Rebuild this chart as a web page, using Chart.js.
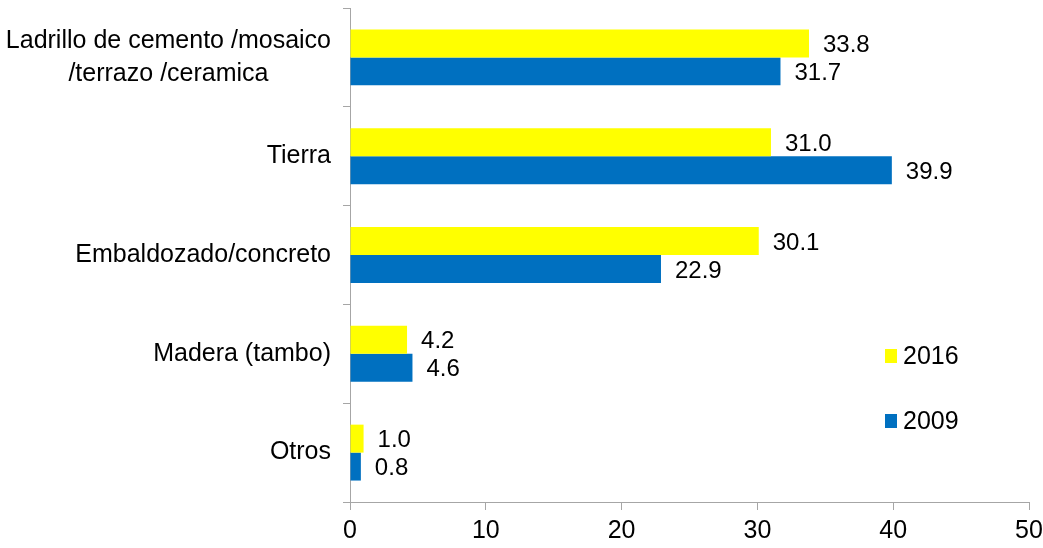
<!DOCTYPE html>
<html>
<head>
<meta charset="utf-8">
<script src="https://cdn.jsdelivr.net/npm/chart.js@4.4.1/dist/chart.umd.min.js"></script>
<style>
  html, body { margin: 0; padding: 0; background: #fff; }
  #wrap { width: 1043px; height: 548px; }
</style>
</head>
<body>
<div id="wrap"><canvas id="floorChart" width="1043" height="548"></canvas></div>
<script>
const categories = [
  ["Ladrillo de cemento /mosaico", "/terrazo /ceramica" + "\u00A0".repeat(9)],
  "Tierra",
  "Embaldozado/concreto",
  "Madera (tambo)",
  "Otros"
];
const values2016 = [33.8, 31.0, 30.1, 4.2, 1.0];
const values2009 = [31.7, 39.9, 22.9, 4.6, 0.8];
const seriesLabels = ["2016", "2009"];
const xTicks = [0, 10, 20, 30, 40, 50];

const FONT = "'Liberation Sans', Arial, sans-serif";
const axisGray = "#a6a6a6";

// etiquetas de valor al final de cada barra
const valueLabels = {
  id: "valueLabels",
  afterDatasetsDraw(chart) {
    const ctx = chart.ctx;
    ctx.save();
    ctx.font = "24px " + FONT;
    ctx.fillStyle = "#000";
    ctx.textAlign = "left";
    ctx.textBaseline = "middle";
    chart.data.datasets.forEach((ds, i) => {
      chart.getDatasetMeta(i).data.forEach((bar, j) => {
        ctx.fillText(ds.data[j].toFixed(1), bar.x + 14, bar.y + 2);
      });
    });
    ctx.restore();
  }
};

// leyenda dentro del área, a la derecha
const sideLegend = {
  id: "sideLegend",
  afterDraw(chart) {
    const ctx = chart.ctx;
    ctx.save();
    ctx.font = "25px " + FONT;
    ctx.textAlign = "left";
    ctx.textBaseline = "middle";
    chart.data.datasets.forEach((ds, i) => {
      const cy = 356 + i * 65;
      ctx.fillStyle = ds.backgroundColor;
      ctx.fillRect(885, cy - 7, 12, 14);
      ctx.fillStyle = "#000";
      ctx.fillText(ds.label, 903, cy + 1);
    });
    ctx.restore();
  }
};

new Chart(document.getElementById("floorChart"), {
  type: "bar",
  data: {
    labels: categories,
    datasets: [
      { label: seriesLabels[0], data: values2016, backgroundColor: "#FFFF00" },
      { label: seriesLabels[1], data: values2009, backgroundColor: "#0070C0" }
    ]
  },
  options: {
    indexAxis: "y",
    responsive: false,
    animation: false,
    layout: { padding: { top: 8, right: 14, left: 0, bottom: 0 } },
    datasets: {
      bar: { categoryPercentage: 0.566, barPercentage: 1.0, borderWidth: 0 }
    },
    plugins: {
      legend: { display: false },
      tooltip: { enabled: false }
    },
    scales: {
      x: {
        min: 0,
        max: 50,
        afterBuildTicks: scale => { scale.ticks = xTicks.map(v => ({ value: v })); },
        afterFit: scale => {
          scale.height = 46;
          scale.paddingLeft = 0;
          scale.paddingRight = 0;
        },
        grid: { drawOnChartArea: false, tickLength: 8, color: axisGray, lineWidth: 1 },
        border: { color: axisGray, width: 1 },
        ticks: { color: "#000", font: { family: FONT, size: 25 }, padding: 6 }
      },
      y: {
        afterFit: scale => {
          scale.width = 350;
          scale.paddingTop = 0;
          scale.paddingBottom = 0;
        },
        grid: { drawOnChartArea: false, tickLength: 7, color: axisGray, lineWidth: 1, offset: true },
        border: { color: axisGray, width: 1 },
        ticks: { color: "#000", font: { family: FONT, size: 25, lineHeight: 1.32 }, padding: 12 }
      }
    }
  },
  plugins: [valueLabels, sideLegend]
});
</script>
</body>
</html>
